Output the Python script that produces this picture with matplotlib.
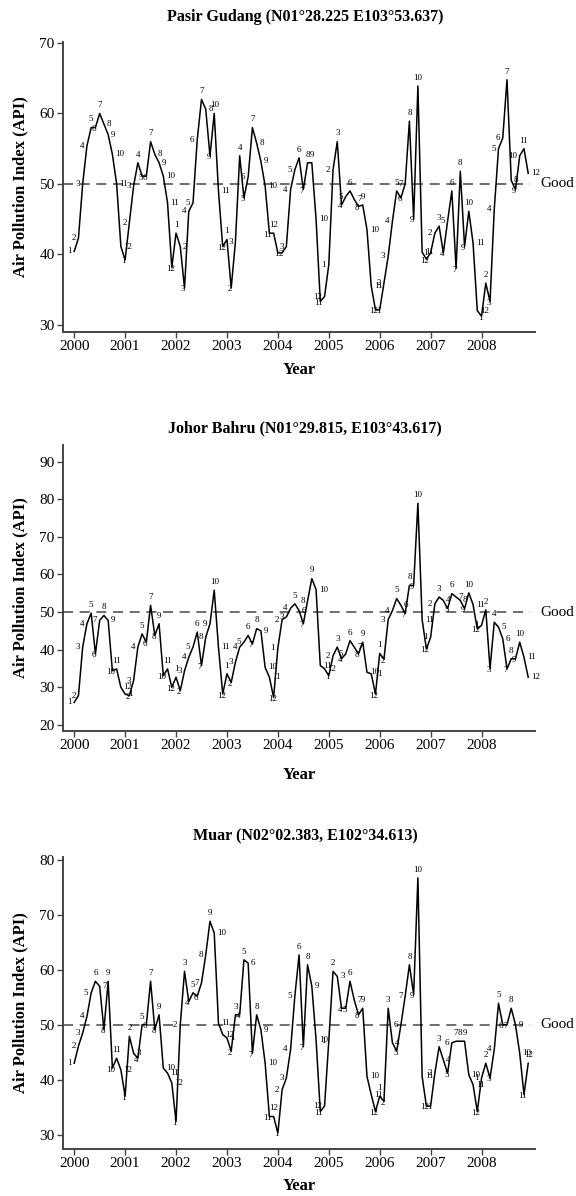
import matplotlib.pyplot as plt
import numpy as np

plt.rcParams['font.family'] = ['Liberation Serif', 'DejaVu Serif']

years = list(range(2000, 2009))
months = list(range(1, 13))

# monthly API, one row per year (Jan..Dec)
pasir_gudang = [
    40.4, 42.3, 50, 55.4, 58, 58, 60, 58.5, 57, 54.2, 50, 41.1,
    39.2, 44.5, 49.7, 53, 51.1, 51.1, 56, 54.2, 53, 51.1, 47.3, 38.1,
    43, 41.1, 35.2, 46.1, 47.3, 56.3, 62, 60.6, 54, 60, 49, 41.1,
    42.1, 35.2, 41.8, 54, 48, 51, 58, 55.8, 53.2, 49.7, 43, 43,
    40.2, 40.2, 41.1, 49.2, 52, 53.7, 49.2, 53, 53, 45, 33.3, 34,
    38.5, 52, 56, 47, 48.2, 49, 47.8, 46.8, 47, 43.5, 35.5, 32.1,
    32.1, 35.9, 39.7, 44.7, 49, 48, 50, 58.9, 45, 63.9, 40.3, 39.3,
    40.2, 43, 44, 40.2, 44.7, 49, 38, 51.8, 41.1, 46.1, 41.6, 32,
    31.2, 35.9, 33.3, 46.4, 55, 56.5, 64.8, 50.5, 49.2, 54, 55, 51.5,
]

johor_bahru = [
    26, 27.8, 40.7, 46.9, 49.7, 38.9, 47.8, 49.1, 47.8, 34.4, 34.9, 30,
    28.2, 27.8, 31.8, 40.7, 44.2, 42, 51.8, 43.8, 46.9, 33.1, 34.9, 30,
    32.7, 29.1, 34.4, 38, 40.7, 44.7, 35.8, 43.3, 46.9, 55.8, 40.7, 28.2,
    33.6, 31.3, 36.7, 40.7, 42, 43.8, 41.5, 45.6, 45, 35.3, 32.7, 27.3,
    40.5, 48, 48.7, 51, 52.2, 50.4, 46.9, 53, 58.9, 56, 35.8, 34.9,
    33.1, 38.4, 40.7, 37.6, 38.9, 42.4, 40.7, 38.9, 42, 34, 33.6, 28.2,
    39, 37.5, 48, 50.4, 53.6, 51.8, 49.6, 57.1, 57.1, 78.9, 48, 40.2,
    43.3, 52.2, 54, 53.1, 50.9, 54.9, 54, 53.1, 50.9, 55.1, 52, 45.5,
    46.5, 50.6, 35, 47.3, 46, 42.9, 34.9, 37.6, 37.6, 42, 38, 32.7,
]

muar = [
    43, 46.1, 48.5, 51.5, 55.8, 57.9, 57, 49.1, 57.9, 42.1, 43.9, 41.8,
    37, 47.9, 44.8, 43.9, 50, 50, 57.9, 49.1, 51.8, 42.1, 41.2, 39.4,
    32.4, 50, 59.7, 54.2, 55.8, 55.2, 57.6, 62.7, 68.8, 66.7, 50.3, 48.2,
    47.6, 45.2, 51.8, 51.8, 61.8, 61.2, 44.8, 51.8, 49.1, 43, 33.3, 33.3,
    30.3, 38.2, 40.3, 45.5, 55.2, 62.7, 46, 60.9, 57, 47.3, 34.2, 35.2,
    47, 59.7, 58.8, 53, 53, 57.9, 54.5, 51.8, 53, 40.6, 37.3, 34.2,
    37, 36.1, 53, 46.7, 45.2, 50, 55.2, 60.9, 55.5, 76.7, 40.6, 35.2,
    35.2, 41.2, 46, 43.6, 41.2, 46.7, 47, 47, 47, 40.9, 39.1, 34.2,
    40.3, 43, 40.3, 45.5, 53.9, 50, 50, 53, 50, 44.8, 37.3, 43,
]

titles = [
    "Pasir Gudang (N01\u00b028.225 E103\u00b053.637)",
    "Johor Bahru (N01\u00b029.815, E103\u00b043.617)",
    "Muar (N02\u00b002.383, E102\u00b034.613)",
]
series = [pasir_gudang, johor_bahru, muar]
ylims = [(29, 70.2), (18.4, 94.4), (27.4, 80.5)]
yticks = [[30, 40, 50, 60, 70], [20, 30, 40, 50, 60, 70, 80, 90], [30, 40, 50, 60, 70, 80]]

W, H = 576, 1196
# pixel boxes: top, bottom of each axes
boxes = [(41.7, 331.7), (445, 731), (857, 1149)]
title_y = [17, 428, 836]
xlabel_y = [370, 775, 1186]
left_px, right_px = 63, 535

fig = plt.figure(figsize=(W / 100, H / 100), dpi=100)

t = np.array([y + (m - 1) / 12 for y in years for m in months])
mlab = [m for y in years for m in months]

for k in range(3):
    top, bot = boxes[k]
    ax = fig.add_axes([left_px / W, 1 - bot / H, (right_px - left_px) / W, (bot - top) / H])
    vals = np.array(series[k])
    ax.plot(t, vals, color='black', lw=1.1, zorder=3)
    ax.axhline(50, xmax=0.99, color='#555555', lw=1.2, ls=(0, (6, 4)), zorder=1)
    ax.text(1.012, 50, 'Good', transform=ax.get_yaxis_transform(), ha='left',
            va='center', fontsize=11, clip_on=False)

    # month numbers beside each point
    for i in range(len(vals)):
        prev = vals[i - 1] if i > 0 else vals[i] - 1
        nxt = vals[i + 1] if i < len(vals) - 1 else vals[i] - 1
        v = vals[i]
        if v >= prev and v >= nxt:
            off, ha, va = (0, 3), 'center', 'bottom'
        elif v <= prev and v <= nxt:
            off, ha, va = (-1, -1), 'center', 'center'
        elif v > prev:
            off, ha, va = (-2, 0), 'right', 'center'
        else:
            off, ha, va = (2, 0), 'left', 'center'
        ax.annotate(str(mlab[i]), (t[i], v), xytext=off, textcoords='offset points',
                    ha=ha, va=va, fontsize=6.5, zorder=4)

    ax.set_xlim(1999.78, 2009.05)
    ax.set_ylim(*ylims[k])
    ax.set_xticks(years)
    ax.set_yticks(yticks[k])
    for s in ['top', 'right']:
        ax.spines[s].set_visible(False)
    for s in ['left', 'bottom']:
        ax.spines[s].set_color('#444444')
        ax.spines[s].set_linewidth(1.4)
    ax.tick_params(direction='out', length=4, width=1, color='#444444', labelsize=11, pad=2)

    fig.text(0.53, 1 - title_y[k] / H, titles[k], ha='center', va='center',
             fontsize=11.5, fontweight='bold')
    fig.text(0.52, 1 - xlabel_y[k] / H, 'Year', ha='center', va='center',
             fontsize=12, fontweight='bold')
    fig.text(0.035, 1 - (top + bot) / 2 / H, 'Air Pollution Index (API)', rotation=90,
             ha='center', va='center', fontsize=12, fontweight='bold')

fig.savefig('out.png', dpi=100)
